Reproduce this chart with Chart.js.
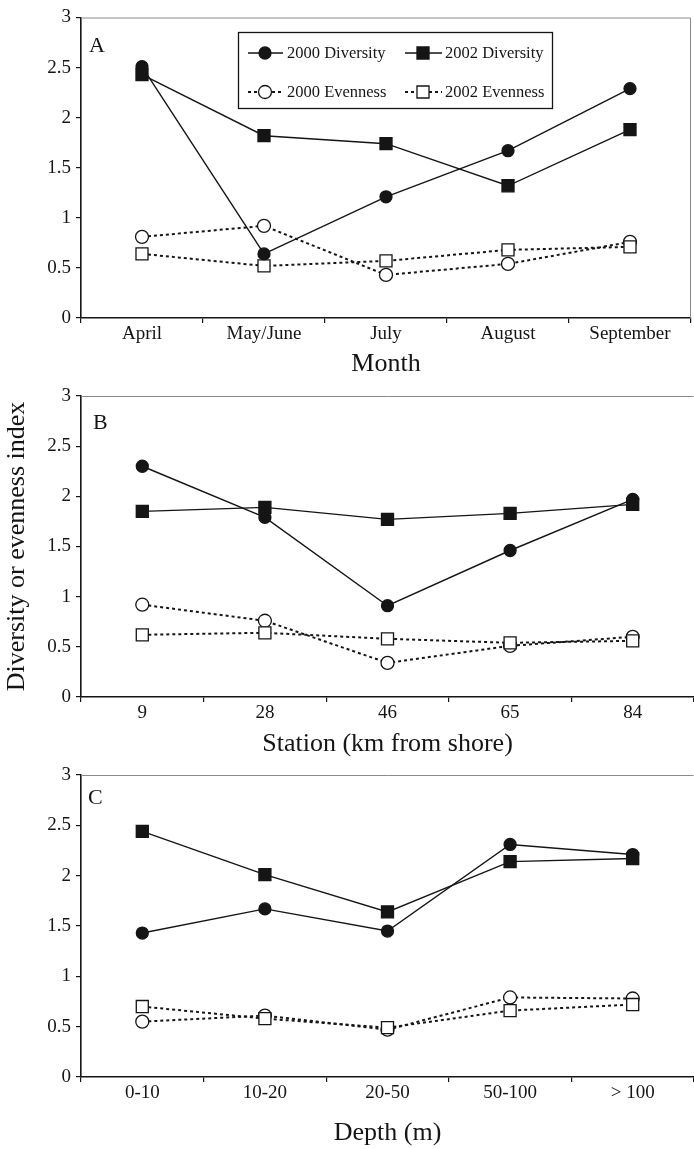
<!DOCTYPE html>
<html>
<head>
<meta charset="utf-8">
<script src="https://cdn.jsdelivr.net/npm/chart.js@4.4.0/dist/chart.umd.min.js"></script>
<style>
  html, body { margin: 0; padding: 0; background: #fff; }
  #wrap { position: relative; width: 694px; height: 1149px; }
  canvas { position: absolute; left: 0; }
</style>
</head>
<body>
<div id="wrap">
  <canvas id="chartA" width="694" height="385" style="top:0px"></canvas>
  <canvas id="chartB" width="694" height="395" style="top:375px"></canvas>
  <canvas id="chartC" width="694" height="394" style="top:755px"></canvas>
</div>
<script>
// categories
const months = ["April", "May/June", "July", "August", "September"];
const stations = ["9", "28", "46", "65", "84"];
const depths = ["0-10", "10-20", "20-50", "50-100", "> 100"];

// panel A (by month)
const monthDiv2000 = [2.51, 0.64, 1.21, 1.67, 2.29];
const monthDiv2002 = [2.43, 1.82, 1.74, 1.32, 1.88];
const monthEven2000 = [0.81, 0.92, 0.43, 0.54, 0.76];
const monthEven2002 = [0.64, 0.52, 0.57, 0.68, 0.71];

// panel B (by station)
const stationDiv2000 = [2.30, 1.79, 0.91, 1.46, 1.97];
const stationDiv2002 = [1.85, 1.89, 1.77, 1.83, 1.92];
const stationEven2000 = [0.92, 0.76, 0.34, 0.51, 0.60];
const stationEven2002 = [0.62, 0.64, 0.58, 0.54, 0.56];

// panel C (by depth)
const depthDiv2000 = [1.43, 1.67, 1.45, 2.31, 2.21];
const depthDiv2002 = [2.44, 2.01, 1.64, 2.14, 2.17];
const depthEven2000 = [0.55, 0.61, 0.47, 0.79, 0.78];
const depthEven2002 = [0.70, 0.58, 0.49, 0.66, 0.72];

const seriesNames = ["2000 Diversity", "2002 Diversity", "2000 Evenness", "2002 Evenness"];
const yMin = 0, yMax = 3, yStep = 0.5;

const FONT = "'Liberation Serif', 'Times New Roman', serif";
const INK = "#151515";

// order: lower value is drawn on top
const seriesStyle = [
  { pointStyle: "circle", pointRadius: 6, fill: INK, dash: [], width: 1.4, order: 1 },
  { pointStyle: "rect", pointRadius: 8.5, fill: INK, dash: [], width: 1.4, order: 0 },
  { pointStyle: "circle", pointRadius: 6.5, fill: "#fff", dash: [3, 3], width: 2, order: 3 },
  { pointStyle: "rect", pointRadius: 8.5, fill: "#fff", dash: [3, 3], width: 2, order: 2 }
];

function makeDatasets(values) {
  return values.map((vals, i) => {
    const s = seriesStyle[i];
    return {
      label: seriesNames[i],
      data: vals,
      order: s.order,
      borderColor: INK,
      borderWidth: s.width,
      borderDash: s.dash,
      pointStyle: s.pointStyle,
      pointRadius: s.pointRadius,
      pointHoverRadius: s.pointRadius,
      pointBackgroundColor: s.fill,
      pointBorderColor: INK,
      pointBorderWidth: 1.3,
      tension: 0,
      fill: false,
      clip: false
    };
  });
}

// gray top (and optional right) frame
const framePlugin = {
  id: "frame",
  beforeDatasetsDraw(chart, args, opts) {
    const { ctx, chartArea: a } = chart;
    ctx.save();
    ctx.strokeStyle = "#8a8a8a";
    ctx.lineWidth = 1;
    ctx.beginPath();
    ctx.moveTo(a.left, a.top + 0.5);
    ctx.lineTo(a.right - 0.5, a.top + 0.5);
    if (opts.right) ctx.lineTo(a.right - 0.5, a.bottom);
    ctx.stroke();
    ctx.restore();
  }
};

// panel letter
const letterPlugin = {
  id: "letter",
  afterDraw(chart, args, opts) {
    const { ctx, chartArea: a } = chart;
    ctx.save();
    ctx.font = "22px " + FONT;
    ctx.fillStyle = INK;
    ctx.textBaseline = "alphabetic";
    ctx.fillText(opts.text, a.left + opts.dx, a.top + opts.dy);
    ctx.restore();
  }
};

function drawMarker(ctx, style, x, y) {
  ctx.beginPath();
  if (style.pointStyle === "circle") {
    ctx.arc(x, y, style.pointRadius, 0, Math.PI * 2);
  } else {
    const h = style.pointRadius * Math.SQRT1_2;
    ctx.rect(x - h, y - h, 2 * h, 2 * h);
  }
  ctx.fillStyle = style.fill;
  ctx.fill();
  ctx.lineWidth = 1.3;
  ctx.strokeStyle = INK;
  ctx.stroke();
}

// boxed 2x2 legend for panel A
const boxLegendPlugin = {
  id: "boxLegend",
  afterDraw(chart, args, opts) {
    if (!opts.show) return;
    const ctx = chart.ctx;
    ctx.save();
    ctx.fillStyle = "#fff";
    ctx.fillRect(238, 32, 315, 77);
    ctx.strokeStyle = INK;
    ctx.lineWidth = 1.3;
    ctx.strokeRect(238.5, 32.5, 314, 76);
    const cols = [{ x0: 248, x1: 283, mx: 265, tx: 287 }, { x0: 405, x1: 442, mx: 423, tx: 445 }];
    const rows = [53, 92];
    seriesNames.forEach((name, i) => {
      const c = cols[i % 2], y = rows[Math.floor(i / 2)], s = seriesStyle[i];
      ctx.beginPath();
      ctx.setLineDash(s.dash);
      ctx.lineWidth = s.width;
      ctx.strokeStyle = INK;
      ctx.moveTo(c.x0, y);
      ctx.lineTo(c.x1, y);
      ctx.stroke();
      ctx.setLineDash([]);
      drawMarker(ctx, s, c.mx, y);
      ctx.fillStyle = INK;
      ctx.font = "16.5px " + FONT;
      ctx.textBaseline = "middle";
      ctx.fillText(name, c.tx, y + 1);
    });
    ctx.restore();
  }
};

function makePanel(id, cfg) {
  return new Chart(document.getElementById(id), {
    type: "line",
    data: { labels: cfg.labels, datasets: makeDatasets(cfg.values) },
    plugins: [framePlugin, letterPlugin, boxLegendPlugin],
    options: {
      responsive: false,
      animation: false,
      events: [],
      layout: { autoPadding: false, padding: { top: cfg.padTop, right: cfg.padRight, left: 0, bottom: 0 } },
      plugins: {
        legend: { display: false },
        tooltip: { enabled: false },
        frame: { right: !!cfg.rightBorder },
        letter: { text: cfg.letter, dx: cfg.letterDx, dy: cfg.letterDy },
        boxLegend: { show: !!cfg.legend }
      },
      scales: {
        x: {
          type: "category",
          offset: true,
          grid: {
            offset: true,
            drawOnChartArea: false,
            drawTicks: true,
            tickLength: 5,
            color: INK,
            lineWidth: 1.2
          },
          border: { display: true, color: INK, width: 1.6 },
          ticks: { color: INK, padding: 0, maxRotation: 0, font: { family: FONT, size: 19 } },
          title: {
            display: true,
            text: cfg.xTitle,
            color: INK,
            font: { family: FONT, size: 26 },
            padding: { top: 0, bottom: cfg.xTitlePad }
          },
          afterFit(scale) { scale.height = cfg.xHeight; }
        },
        y: {
          min: yMin,
          max: yMax,
          ticks: {
            stepSize: yStep,
            color: INK,
            padding: 5,
            font: { family: FONT, size: 19 },
            callback: v => String(v)
          },
          grid: {
            drawOnChartArea: false,
            drawTicks: true,
            tickLength: 5,
            color: INK,
            lineWidth: 1.2
          },
          border: { display: true, color: INK, width: 1.6 },
          title: {
            display: !!cfg.yTitle,
            text: cfg.yTitle || "",
            color: INK,
            font: { family: FONT, size: 26 },
            padding: { top: 1.5, bottom: 0 }
          },
          afterFit(scale) { scale.width = 81; }
        }
      }
    }
  });
}

makePanel("chartA", {
  labels: months,
  values: [monthDiv2000, monthDiv2002, monthEven2000, monthEven2002],
  xTitle: "Month",
  padTop: 17.5, padRight: 3, xHeight: 67, xTitlePad: 5,
  letter: "A", letterDx: 8, letterDy: 34,
  legend: true, rightBorder: true
});

makePanel("chartB", {
  labels: stations,
  values: [stationDiv2000, stationDiv2002, stationEven2000, stationEven2002],
  xTitle: "Station (km from shore)",
  yTitle: "Diversity or evenness index",
  padTop: 21, padRight: 0, xHeight: 73, xTitlePad: 10,
  letter: "B", letterDx: 12, letterDy: 33
});

makePanel("chartC", {
  labels: depths,
  values: [depthDiv2000, depthDiv2002, depthEven2000, depthEven2002],
  xTitle: "Depth (m)",
  padTop: 20, padRight: 0, xHeight: 72, xTitlePad: 0,
  letter: "C", letterDx: 7, letterDy: 29
});
</script>
</body>
</html>
